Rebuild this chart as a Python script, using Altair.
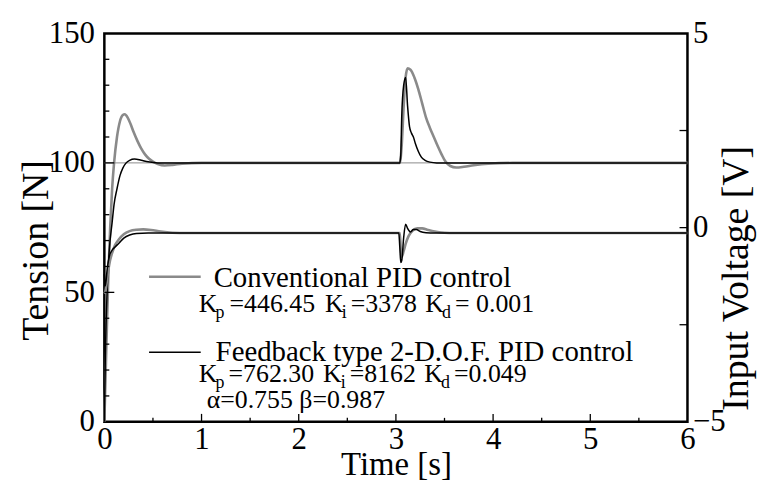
import altair as alt
import pandas as pd

# ---------------- data ----------------
conv_time = [0, 0.02, 0.04, 0.06, 0.08, 0.10, 0.13, 0.16, 0.19, 0.21, 0.24, 0.27, 0.30, 0.34,
             0.38, 0.42, 0.46, 0.50, 0.55, 0.62, 0.70, 0.80, 1.00, 3.04, 3.06, 3.08, 3.10, 3.12,
             3.15, 3.19, 3.23, 3.27, 3.31, 3.35, 3.39, 3.43, 3.47, 3.51, 3.56, 3.62, 3.70, 3.80,
             3.95, 4.20, 6.00]
conv_tension = [0, 28, 55, 75, 90, 100, 110, 116, 118.5, 118.8, 117.5, 115, 112, 108.5,
                105.5, 103.2, 101.6, 100.5, 99.6, 99.0, 99.2, 99.7, 100, 100, 107, 122, 133, 136.5,
                136, 133, 128.5, 123, 117.5, 113.5, 110, 106.5, 103.3, 100.5, 98.8, 98.2, 98.5, 99.1,
                99.7, 100, 100]

dof_time = [0, 0.01, 0.03, 0.05, 0.08, 0.10, 0.13, 0.16, 0.19, 0.22, 0.26, 0.31, 0.38, 0.45,
            0.55, 3.04, 3.05, 3.06, 3.08, 3.10, 3.12, 3.14, 3.16, 3.18, 3.20, 3.23, 3.26, 3.30,
            3.35, 3.42, 6.00]
dof_tension = [0, 25, 52, 66, 77, 84, 90, 95, 98, 99.8, 101, 101.5, 101, 100.4,
               100, 100, 103, 118, 130, 133, 122, 114, 111.5, 110, 107.5, 104.5, 102.3, 101,
               100.3, 100, 100]

convv_time = [0, 0.01, 0.03, 0.05, 0.08, 0.11, 0.15, 0.20, 0.26, 0.33, 0.40, 0.48, 0.58, 0.70,
              0.85, 3.04, 3.05, 3.06, 3.08, 3.10, 3.13, 3.17, 3.22, 3.27, 3.33, 3.40, 3.50, 3.60,
              6.00]
conv_voltage = [-1.7, -1.65, -1.3, -0.95, -0.65, -0.45, -0.3, -0.17, -0.09, -0.055, -0.045,
                -0.06, -0.1, -0.13, -0.14, -0.14, -0.55, -0.75, -0.6, -0.42, -0.22, -0.08, -0.02,
                -0.02, -0.06, -0.1, -0.13, -0.14, -0.14]

dofv_time = [0, 0.01, 0.03, 0.05, 0.08, 0.11, 0.15, 0.20, 0.26, 0.33, 0.45, 3.03, 3.04, 3.05,
             3.06, 3.08, 3.10, 3.12, 3.15, 3.18, 3.21, 3.25, 3.31, 3.40, 6.00]
dof_voltage = [-1.2, -1.5, -1.05, -0.75, -0.58, -0.5, -0.4, -0.27, -0.19, -0.15, -0.14, -0.14,
               -0.5, -0.9, -0.85, -0.25, 0.09, -0.02, -0.11, -0.05, -0.05, -0.1, -0.13, -0.14,
               -0.14]

setpoint = [100]

x_labels = [0, 1, 2, 3, 4, 5, 6]
x_minor = [0.5, 1.5, 2.5, 3.5, 4.5, 5.5]
x_major_inner = [1, 2, 3, 4, 5]
left_labels = [0, 50, 100, 150]
left_major_inner = [50, 100]
left_minor = [10, 20, 30, 40, 60, 70, 80, 90, 110, 120, 130, 140]
right_labels = [-5, 0, 5]
right_inner = [-2.5, 0, 2.5]

legend_names = ["Conventional PID control", "Feedback type 2-D.O.F. PID control"]
conv_gain_text = ["K", "p", "=446.45", "K", "i", "=3378", "K", "d", "= 0.001"]
dof_gain_text = ["K", "p", "=762.30", "K", "i", "=8162", "K", "d", "=0.049"]
dof_extra_text = "α=0.755 β=0.987"

# ---------------- layout ----------------
W, H = 587, 391
FONT = "Liberation Serif"
GRAY = "#8a8a8a"

xs = alt.Scale(domain=[0, 6], nice=False, zero=False)
ls = alt.Scale(domain=[0, 150], nice=False, zero=False)
rs = alt.Scale(domain=[-5, 5], nice=False, zero=False)

x_axis = alt.Axis(orient="bottom", values=x_labels, labelFontSize=31, labelPadding=3,
                  labelFlush=False, title="Time [s]", titleFontSize=33,
                  titleY=53, titleBaseline="alphabetic", zindex=2)
left_axis = alt.Axis(orient="left", values=left_labels, labelFontSize=31, labelPadding=10,
                     title="Tension [N]", titleFontSize=38, titleAngle=270,
                     titleX=-57, titleY=218, titleBaseline="alphabetic", zindex=2)
right_axis = alt.Axis(orient="right", values=right_labels, labelFontSize=31,
                      labelPadding=5, title="Input Voltage [V]", titleFontSize=38,
                      titleAngle=270, titleX=60, titleY=246, titleBaseline="alphabetic",
                      zindex=2)

def X(field):
    # every layer shares the same x axis definition so the shared axis is kept
    return alt.X(field, scale=xs, axis=x_axis)

def df(t, v):
    return pd.DataFrame({"t": t, "v": v})

one = pd.DataFrame({"_": [0]})

layers = []

# ---- tension (left axis) ----
layers.append(alt.Chart(pd.DataFrame({"v": setpoint})).mark_rule(color=GRAY, strokeWidth=1).encode(
    y=alt.Y("v:Q", scale=ls, axis=left_axis)))

layers.append(alt.Chart(df(conv_time, conv_tension)).mark_line(
    color=GRAY, strokeWidth=2.6, interpolate="monotone").encode(
    x=X("t:Q"), y=alt.Y("v:Q", scale=ls, axis=None)))

layers.append(alt.Chart(df(dof_time, dof_tension)).mark_line(
    color="black", strokeWidth=1.5, interpolate="monotone").encode(
    x=X("t:Q"), y=alt.Y("v:Q", scale=ls, axis=None)))

# ---- voltage (right axis) ----
layers.append(alt.Chart(df(convv_time, conv_voltage)).mark_line(
    color=GRAY, strokeWidth=2.6, interpolate="monotone").encode(
    x=X("t:Q"), y=alt.Y("v:Q", scale=rs, axis=right_axis)))
layers.append(alt.Chart(df(dofv_time, dof_voltage)).mark_line(
    color="black", strokeWidth=1.5, interpolate="monotone").encode(
    x=X("t:Q"), y=alt.Y("v:Q", scale=rs, axis=None)))

# ---- inward ticks ----
layers.append(alt.Chart(pd.DataFrame({"v": left_minor})).mark_rule(color="black", strokeWidth=1.3).encode(
    y=alt.Y("v:Q", scale=ls, axis=None), x=alt.value(0), x2=alt.value(5)))
layers.append(alt.Chart(pd.DataFrame({"v": left_major_inner})).mark_rule(color="black", strokeWidth=1.3).encode(
    y=alt.Y("v:Q", scale=ls, axis=None), x=alt.value(0), x2=alt.value(10)))
layers.append(alt.Chart(pd.DataFrame({"t": x_minor})).mark_rule(color="black", strokeWidth=1.3).encode(
    x=X("t:Q"), y=alt.value(H), y2=alt.value(H - 4)))
layers.append(alt.Chart(pd.DataFrame({"t": x_major_inner})).mark_rule(color="black", strokeWidth=1.3).encode(
    x=X("t:Q"), y=alt.value(H), y2=alt.value(H - 8)))
layers.append(alt.Chart(pd.DataFrame({"v": right_inner})).mark_rule(color="black", strokeWidth=1.3).encode(
    y=alt.Y("v:Q", scale=rs, axis=None), x=alt.value(W - 8), x2=alt.value(W)))

# ---- legend ----
def txt(s, x, y, size, color="black"):
    return alt.Chart(one).mark_text(font=FONT, fontSize=size, align="left",
                                    baseline="alphabetic", color=color).encode(
        x=alt.value(x), y=alt.value(y), text=alt.value(s))

def swatch(y, color, width):
    return alt.Chart(one).mark_rule(color=color, strokeWidth=width).encode(
        x=alt.value(45), x2=alt.value(97), y=alt.value(y))

layers += [swatch(245, GRAY, 2.6), swatch(321, "black", 1.5),
           txt(legend_names[0], 110, 255, 29), txt(legend_names[1], 112, 330, 29)]

conv_x = [95, 112, 126, 222, 239, 248, 323, 340, 353]
dof_x = [95, 112, 125, 220, 238, 247, 322, 339, 352]
subs = [False, True, False, False, True, False, False, True, False]
for s, x, sub in zip(conv_gain_text, conv_x, subs):
    layers.append(txt(s, x, 286 if sub else 280, 18 if sub else 26))
for s, x, sub in zip(dof_gain_text, dof_x, subs):
    layers.append(txt(s, x, 357 if sub else 351, 18 if sub else 26))
layers.append(txt(dof_extra_text, 103, 377, 26))

chart = alt.layer(*layers).resolve_scale(y="independent").properties(
    width=W, height=H, autosize=alt.AutoSizeParams(type="none"),
    padding={"left": 97, "top": 24, "right": 70, "bottom": 62},
    background="white",
).configure_view(stroke="black", strokeWidth=2.5).configure_axis(
    labelFont=FONT, titleFont=FONT, labelColor="black", titleColor="black",
    titleFontWeight="normal", domain=False, ticks=False, grid=False)

chart.save("out.html", embed_options={"renderer": "svg", "actions": False})
